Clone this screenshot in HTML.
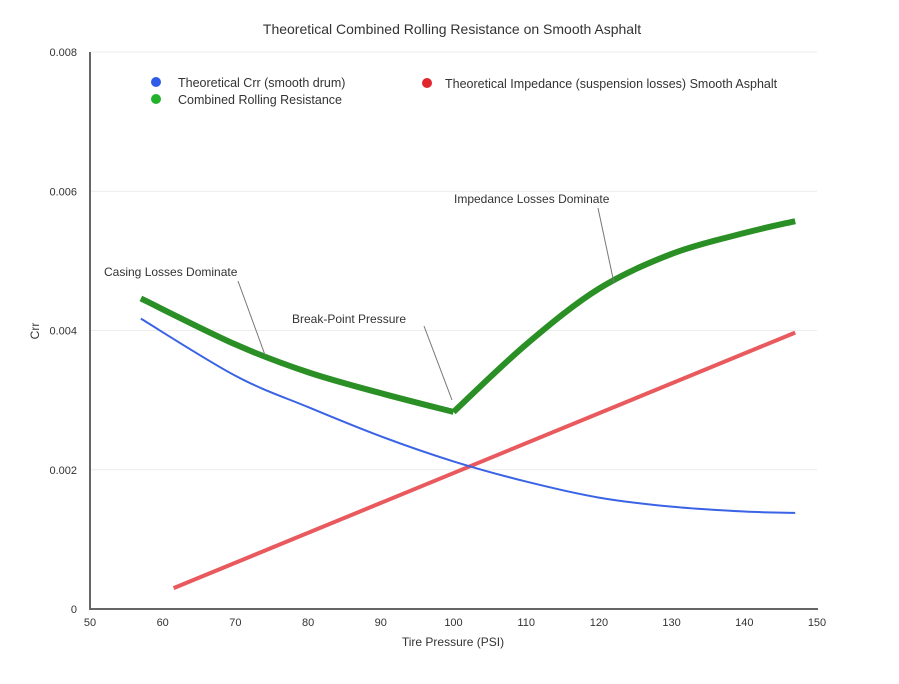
<!DOCTYPE html>
<html><head><meta charset="utf-8"><style>
body{margin:0;background:#fff;}
svg text{font-family:"Liberation Sans",Arial,sans-serif;fill:#333;}
</style></head><body>
<svg width="899" height="679" viewBox="0 0 899 679" xmlns="http://www.w3.org/2000/svg">
<text x="452" y="34" text-anchor="middle" font-size="14" fill="#222">Theoretical Combined Rolling Resistance on Smooth Asphalt</text>
<g id="grid"></g>
<g id="series"></g>
<g>
<circle cx="156" cy="82" r="5" fill="#2f5be8"/>
<text x="178" y="87" font-size="12.5">Theoretical Crr (smooth drum)</text>
<circle cx="156" cy="99" r="5" fill="#22b22c"/>
<text x="178" y="104" font-size="12.5">Combined Rolling Resistance</text>
<circle cx="427" cy="83" r="5" fill="#e0262c"/>
<text x="445" y="88" font-size="12.5">Theoretical Impedance (suspension losses) Smooth Asphalt</text>
</g>
<g font-size="12">
<text x="104" y="276" font-size="12">Casing Losses Dominate</text>
<line x1="238" y1="281" x2="265" y2="355" stroke="#777" stroke-width="1"/>
<text x="292" y="323" font-size="12">Break-Point Pressure</text>
<line x1="424" y1="326" x2="452" y2="400" stroke="#777" stroke-width="1"/>
<text x="454" y="203" font-size="12">Impedance Losses Dominate</text>
<line x1="598" y1="208" x2="614" y2="283" stroke="#777" stroke-width="1"/>
</g>
<text x="453" y="646" text-anchor="middle" font-size="12">Tire Pressure (PSI)</text>
<text x="0" y="0" transform="translate(39,331) rotate(-90)" text-anchor="middle" font-size="12">Crr</text>
</svg>
<script>
const xTicks=[50,60,70,80,90,100,110,120,130,140,150];
const yTicks=[0,0.002,0.004,0.006,0.008];
const yTickLabels=["0","0.002","0.004","0.006","0.008"];
const blueX=[57,70,80,90,100,110,120,130,140,147];
const blueY=[0.00417,0.00335,0.0029,0.00248,0.00212,0.00183,0.0016,0.00147,0.0014,0.00138];
const redX=[61.5,147];
const redY=[0.0003,0.00397];
const greenX=[57,70,80,90,100,110,120,130,140,147];
const greenY=[0.00446,0.0038,0.0034,0.0031,0.00283,0.0038,0.0046,0.0051,0.0054,0.00557];
const NS="http://www.w3.org/2000/svg";
const sx=v=>90+(v-50)*(727/100);
const sy=v=>609-v*(557/0.008);
const grid=document.getElementById('grid'),series=document.getElementById('series');
function mk(tag,attrs,parent){const e=document.createElementNS(NS,tag);for(const k in attrs)e.setAttribute(k,attrs[k]);parent.appendChild(e);return e;}
yTicks.forEach((t,i)=>{
 if(t>0){const g=mk('line',{x1:90,x2:817,y1:sy(t),y2:sy(t),stroke:'#ececec','stroke-width':1},grid);
 
 }
 const l=mk('text',{x:77,y:sy(t)+4,'text-anchor':'end','font-size':11},grid);l.textContent=yTickLabels[i];
 
 
});
xTicks.forEach(t=>{const l=mk('text',{x:sx(t),y:626,'text-anchor':'middle','font-size':11},grid);l.textContent=t;
 
 
});
const ya=mk('line',{x1:90,x2:90,y1:52,y2:609,stroke:'#666','stroke-width':2},grid);


const xa=mk('line',{x1:89,x2:818,y1:609,y2:609,stroke:'#666','stroke-width':2},grid);


function smooth(xs,ys){const p=xs.map((x,i)=>[sx(x),sy(ys[i])]);
 if(p.length<3)return 'M'+p.map(q=>q.join(',')).join('L');
 let d='M'+p[0].join(',');
 for(let i=0;i<p.length-1;i++){const p0=p[i-1]||p[i],p1=p[i],p2=p[i+1],p3=p[i+2]||p2;
  const c1=[p1[0]+(p2[0]-p0[0])/6,p1[1]+(p2[1]-p0[1])/6],c2=[p2[0]-(p3[0]-p1[0])/6,p2[1]-(p3[1]-p1[1])/6];
  d+='C'+c1.join(',')+' '+c2.join(',')+' '+p2.join(',');}
 return d;}
const red=mk('path',{d:smooth(redX,redY),stroke:'#e85a5e','stroke-width':4,fill:'none'},series);


const blue=mk('path',{d:smooth(blueX,blueY),stroke:'#3a63e6','stroke-width':2,fill:'none'},series);


const gl=mk('path',{d:smooth(greenX.slice(0,5),greenY.slice(0,5))+smooth(greenX.slice(4),greenY.slice(4)).replace('M',' M'),stroke:'#2a8f24','stroke-width':6,fill:'none','stroke-linejoin':'round'},series);


</script>
</body></html>
